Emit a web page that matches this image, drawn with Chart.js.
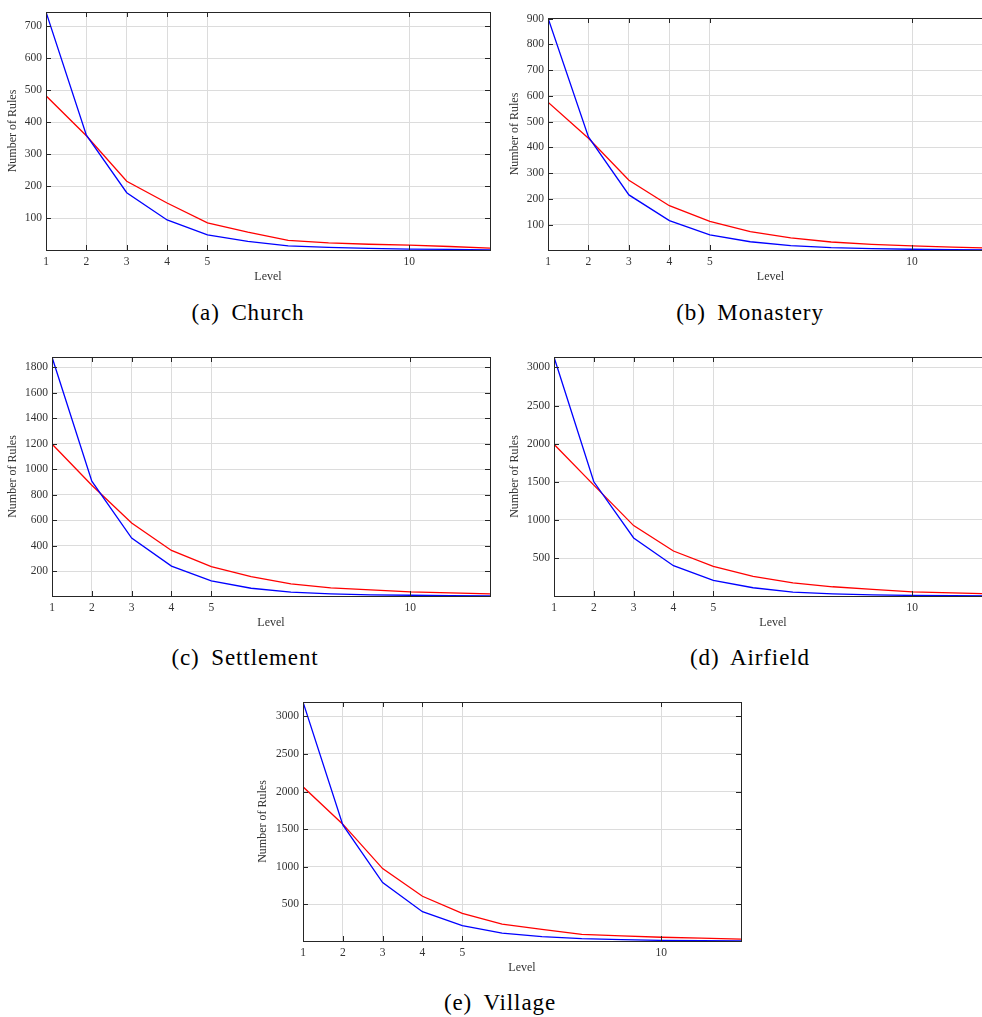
<!DOCTYPE html>
<html>
<head>
<meta charset="utf-8">
<script src="https://cdn.jsdelivr.net/npm/chart.js@4"></script>
<style>
  html, body { margin: 0; padding: 0; background: #fff; overflow: hidden; }
  body { width: 982px; height: 1017px; position: relative; }
  .panel { position: absolute; }
  .caption {
    position: absolute; height: 30px; line-height: 30px; text-align: center;
    font-family: "Liberation Serif", serif; font-size: 23px; color: #000;
    letter-spacing: 0.9px; word-spacing: 5px; white-space: nowrap;
  }
</style>
</head>
<body>
<div class="panel" id="pa" style="left:0px;top:0px;width:495px;height:290px"><canvas id="c_church"></canvas></div>
<div class="panel" id="pb" style="left:502px;top:0px;width:500px;height:290px"><canvas id="c_monastery"></canvas></div>
<div class="panel" id="pc" style="left:0px;top:345px;width:495px;height:291px"><canvas id="c_settlement"></canvas></div>
<div class="panel" id="pd" style="left:502px;top:345px;width:500px;height:291px"><canvas id="c_airfield"></canvas></div>
<div class="panel" id="pe" style="left:250px;top:690px;width:496px;height:291px"><canvas id="c_village"></canvas></div>

<div class="caption" style="left:148px;top:298px;width:200px">(a) Church</div>
<div class="caption" style="left:650px;top:298px;width:200px">(b) Monastery</div>
<div class="caption" style="left:145px;top:643px;width:200px">(c) Settlement</div>
<div class="caption" style="left:650px;top:643px;width:200px">(d) Airfield</div>
<div class="caption" style="left:400px;top:988px;width:200px">(e) Village</div>

<script>
// levels on the x axis
var levels = [1, 2, 3, 4, 5, 6, 7, 8, 9, 10, 11, 12];
var levelTicks = [1, 2, 3, 4, 5, 10];

// (a) Church
var churchBlue = [745, 360, 180, 95, 48, 28, 14, 9, 6, 4, 3, 1];
var churchRed = [483, 358, 216, 148, 86, 57, 31, 23, 19, 16, 12, 7];
var churchTicks = [100, 200, 300, 400, 500, 600, 700];

// (b) Monastery
var monasteryBlue = [902, 440, 215, 115, 60, 33, 18, 10, 6, 4, 2, 1];
var monasteryRed = [575, 435, 272, 173, 112, 72, 48, 32, 23, 17, 12, 8];
var monasteryTicks = [100, 200, 300, 400, 500, 600, 700, 800, 900];

// (c) Settlement
var settlementBlue = [1882, 907, 460, 240, 124, 66, 35, 22, 14, 11, 8, 5];
var settlementRed = [1199, 875, 579, 363, 235, 158, 100, 69, 53, 37, 29, 22];
var settlementTicks = [200, 400, 600, 800, 1000, 1200, 1400, 1600, 1800];

// (d) Airfield
var airfieldBlue = [3136, 1500, 763, 399, 206, 110, 53, 31, 18, 9, 5, 2];
var airfieldRed = [1991, 1456, 925, 592, 390, 259, 175, 123, 88, 57, 44, 31];
var airfieldTicks = [500, 1000, 1500, 2000, 2500, 3000];

// (e) Village
var villageBlue = [3191, 1557, 789, 402, 216, 118, 69, 43, 29, 20, 15, 12];
var villageRed = [2063, 1566, 975, 607, 380, 235, 168, 101, 80, 62, 49, 36];
var villageTicks = [500, 1000, 1500, 2000, 2500, 3000];

var serif = 'Liberation Serif';
var axisColor = '#262626';
var labelColor = '#333333';

// matlab style box with inward ticks on all four sides
var boxTicks = {
    id: 'boxTicks',
    afterDraw: function (chart) {
        var ctx = chart.ctx;
        var a = chart.chartArea;
        var xs = chart.scales.x, ys = chart.scales.y;
        var len = 5;
        ctx.save();
        ctx.strokeStyle = axisColor;
        ctx.lineWidth = 1;
        ctx.beginPath();
        xs.ticks.forEach(function (t) {
            var px = Math.round(xs.getPixelForValue(t.value)) + 0.5;
            ctx.moveTo(px, a.bottom); ctx.lineTo(px, a.bottom - len);
            ctx.moveTo(px, a.top); ctx.lineTo(px, a.top + len);
        });
        ys.ticks.forEach(function (t) {
            var py = Math.round(ys.getPixelForValue(t.value)) + 0.5;
            ctx.moveTo(a.left, py); ctx.lineTo(a.left + len, py);
            ctx.moveTo(a.right, py); ctx.lineTo(a.right - len, py);
        });
        ctx.stroke();
        ctx.strokeRect(Math.round(a.left) + 0.5, Math.round(a.top) + 0.5,
            Math.round(a.right - a.left), Math.round(a.bottom - a.top));
        ctx.restore();
    }
};

function makePanel(id, blue, red, yTicks, yAxisWidth, padTop, padRight) {
    var all = blue.concat(red);
    var ctx = document.getElementById(id).getContext('2d');
    return new Chart(ctx, {
        type: 'line',
        data: {
            labels: levels,
            datasets: [{
                data: levels.map(function (l, i) { return { x: l, y: blue[i] }; }),
                borderColor: '#0000ff',
                borderWidth: 1.3,
                pointRadius: 0,
                fill: false,
                tension: 0
            },
            {
                data: levels.map(function (l, i) { return { x: l, y: red[i] }; }),
                borderColor: '#ff0000',
                borderWidth: 1.3,
                pointRadius: 0,
                fill: false,
                tension: 0
            }]
        },
        options: {
            responsive: true,
            maintainAspectRatio: false,
            animation: false,
            layout: { padding: { top: padTop, right: padRight, bottom: 0, left: 0 } },
            plugins: {
                legend: { display: false },
                tooltip: { enabled: false }
            },
            scales: {
                x: {
                    type: 'linear',
                    min: levels[0],
                    max: levels[levels.length - 1],
                    afterBuildTicks: function (scale) {
                        scale.ticks = levelTicks.map(function (v) { return { value: v }; });
                    },
                    afterFit: function (scale) { scale.height = 40; },
                    grid: { color: '#dcdcdc', drawTicks: false },
                    border: { display: false },
                    ticks: {
                        padding: 5,
                        color: labelColor,
                        font: { family: serif, size: 11.5 },
                        maxRotation: 0,
                        callback: function (v) { return v; }
                    },
                    title: {
                        display: true,
                        text: 'Level',
                        color: labelColor,
                        font: { family: serif, size: 12 },
                        padding: { top: 0, bottom: 6 }
                    }
                },
                y: {
                    min: Math.min.apply(null, all),
                    max: Math.max.apply(null, all),
                    afterBuildTicks: function (scale) {
                        scale.ticks = yTicks.map(function (v) { return { value: v }; });
                    },
                    afterFit: function (scale) { scale.width = yAxisWidth; },
                    grid: { color: '#dcdcdc', drawTicks: false },
                    border: { display: false },
                    ticks: {
                        padding: 4,
                        color: labelColor,
                        font: { family: serif, size: 11.5 },
                        callback: function (v) { return v; }
                    },
                    title: {
                        display: true,
                        text: 'Number of Rules',
                        color: labelColor,
                        font: { family: serif, size: 12 },
                        padding: { top: 6, bottom: 0 }
                    }
                }
            }
        },
        plugins: [boxTicks]
    });
}

makePanel('c_church', churchBlue, churchRed, churchTicks, 46, 12, 5);
makePanel('c_monastery', monasteryBlue, monasteryRed, monasteryTicks, 46, 18, 9);
makePanel('c_settlement', settlementBlue, settlementRed, settlementTicks, 52, 12, 5);
makePanel('c_airfield', airfieldBlue, airfieldRed, airfieldTicks, 52, 12, 10);
makePanel('c_village', villageBlue, villageRed, villageTicks, 53, 12, 5);
</script>
</body>
</html>
